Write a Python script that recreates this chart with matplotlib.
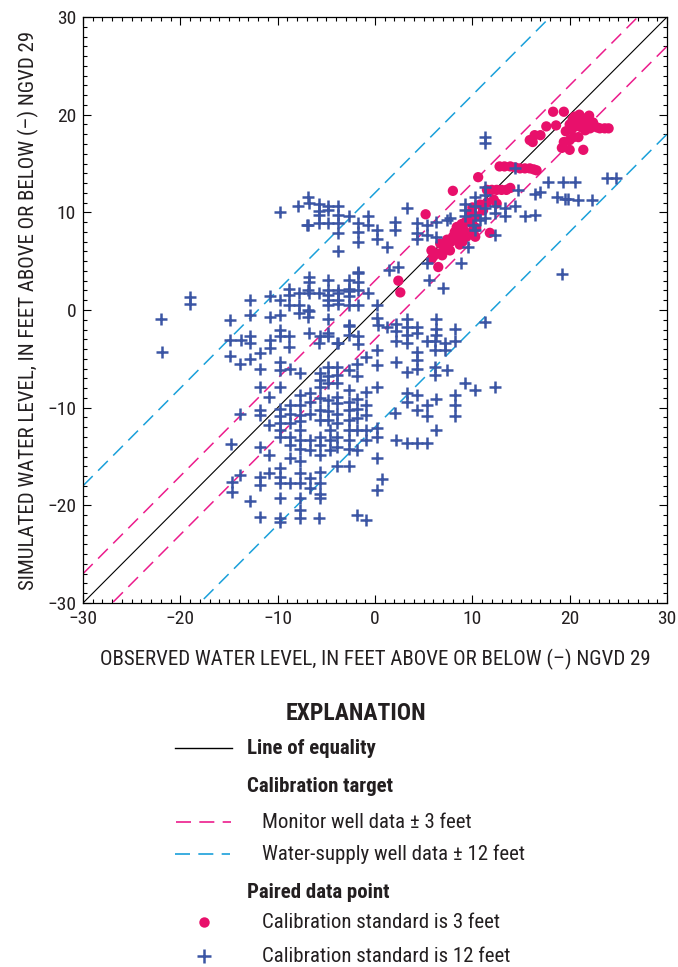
import matplotlib
matplotlib.use("Agg")
import matplotlib.pyplot as plt
import numpy as np
from matplotlib import font_manager
from matplotlib.lines import Line2D
from matplotlib.ticker import MultipleLocator

# pick the narrowest sans family that is installed
installed = {f.name for f in font_manager.fontManager.ttflist}
narrow = [n for n in ['Liberation Sans Narrow', 'Roboto Condensed', 'Open Sans Condensed',
                      'Roboto', 'Liberation Sans'] if n in installed]
plt.rcParams['font.family'] = narrow[:1] + ['DejaVu Sans']

# observed, simulated water level (ft, NGVD 29)
# water-supply wells, calibration standard 12 ft
supply_pts = [
    (-22.0, -0.9), (-21.9, -4.3), (-19.0, 1.3), (-19.0, 0.6),
    (-9.8, 10.0), (-7.9, 10.6), (-6.9, 11.6), (-6.8, 11.0), (-7.0, 8.7), (-5.8, 10.9),
    (-5.8, 10.1), (-5.8, 9.7), (-4.8, 10.6), (-3.8, 10.6), (-3.8, 9.7), (-4.8, 8.9),
    (-3.8, 8.9), (-5.8, 8.9), (-6.9, 8.7), (-2.7, 9.6), (-1.7, 8.9), (-1.7, 8.0),
    (-0.7, 9.6), (-0.7, 8.7), (0.2, 8.2), (0.2, 7.3), (1.2, 6.5), (-1.7, 7.0),
    (-3.8, 7.9), (-3.8, 6.0), (2.1, 9.0), (2.1, 8.2), (-4.8, 10.2),
    (3.3, 10.4), (4.3, 8.9), (4.3, 7.9), (4.3, 7.3), (5.3, 8.7), (5.3, 7.7),
    (6.3, 9.0), (6.3, 7.5), (7.4, 9.2),
    (2.4, 4.4), (1.4, 4.1), (-1.7, 3.8), (5.5, 3.1), (7.0, 2.3), (5.3, 4.8),
    (-6.8, 3.4), (-6.8, 2.9), (-4.8, 3.1), (-2.7, 3.1), (-1.7, 3.9), (-1.7, 2.9),
    (-8.8, 2.2), (-8.8, 1.5), (-7.8, 1.7), (-6.8, 1.7), (-5.8, 1.7), (-4.8, 1.5),
    (-3.8, 1.7), (-2.7, 1.9), (-1.7, 2.0), (-0.7, 1.7), (-10.8, 1.4), (-12.8, 1.0),
    (-9.8, 1.0), (-3.8, 0.6), (-2.7, 0.5), (-1.7, 0.5), (-4.8, 0.5), (-7.8, 0.5),
    (-8.8, 0.5), (-9.8, -0.5), (-10.8, -0.7), (-12.8, -0.5), (-14.9, -1.0),
    (-7.8, -0.3), (-6.8, -0.1), (-4.8, -0.9), (0.2, 0.5), (0.2, -0.8), (1.2, -1.7),
    (-9.8, -2.0), (-9.8, -2.7), (-8.8, -2.7), (-8.8, -3.8), (-12.8, -2.7),
    (-14.9, -3.1), (-14.9, -4.7), (-13.8, -3.1), (-11.8, -4.4), (-10.8, -3.1),
    (-10.8, -3.9), (-6.8, -2.4), (-5.8, -3.4), (-4.8, -2.7), (-2.7, -1.6),
    (-2.7, -2.6), (-1.7, -2.7), (-1.7, -3.5), (-3.8, -3.4),
    (-6.9, 2.0), (-6.9, 0.0), (-6.9, -0.7), (-4.8, 2.0), (-4.8, 1.0), (-3.8, 2.0),
    (-3.8, 1.0), (-2.7, 2.2), (-2.7, 1.4), (-2.7, -1.5), (-4.8, -2.4), (0.3, -1.5),
    (2.2, -1.4), (2.2, -2.2), (3.3, -0.9), (3.3, -1.7), (4.3, -1.7), (6.3, -0.9),
    (6.3, -1.9), (6.3, -2.6), (8.2, -1.9),
    (3.3, -2.6), (3.3, -3.4), (4.3, -2.4), (5.3, -3.2), (6.2, -3.2), (7.2, -3.4),
    (7.2, -4.1), (8.2, -3.2), (11.3, -1.2), (2.2, -3.2), (2.2, -5.3), (3.3, -6.3),
    (4.3, -4.3), (4.3, -5.1), (4.3, -6.0), (6.2, -4.1), (6.2, -5.8), (6.2, -6.7),
    (7.4, -6.1), (9.2, -7.5), (10.3, -8.2), (12.3, -7.9), (0.2, -7.9), (-0.9, -8.4),
    (3.3, -8.5), (3.3, -9.4), (4.3, -8.7), (4.3, -10.2), (5.3, -9.7), (5.3, -10.9),
    (6.3, -9.1), (2.1, -10.5), (8.2, -8.7), (8.2, -9.7), (8.2, -10.9), (6.3, -12.3),
    (2.2, -13.3), (3.3, -13.6), (4.3, -13.6), (5.3, -13.6), (-1.9, -14.3), (0.2, -15.2),
    (-3.9, -3.4), (-0.9, -4.8), (0.2, -4.1), (0.2, -5.6), (-1.9, -6.8), (-0.9, -9.7),
    (-0.9, -10.7), (-1.9, -10.1), (0.2, -12.1), (0.2, -13.0), (-0.9, -13.3),
    (-3.9, -16.0), (-2.7, -16.0), (0.7, -17.3), (0.2, -18.4), (-1.9, -21.0),
    (-0.9, -21.5), (-3.9, -5.8), (-3.9, -6.7), (-3.9, -7.5), (-2.7, -6.1), (-1.9, -5.5),
    (-2.7, -8.2), (-2.7, -9.4), (-2.7, -10.2), (-2.7, -11.3), (-2.7, -12.3),
    (-2.7, -13.3), (-2.7, -14.2), (-3.9, -8.9), (-3.9, -9.5), (-3.9, -10.6),
    (-3.9, -11.6), (-3.9, -13.0), (-3.9, -14.0), (-1.8, -9.1), (-1.8, -11.1),
    (-1.8, -12.3), (-0.9, -12.3),
    (-12.8, -3.4), (-13.9, -5.5), (-12.8, -5.0), (-11.8, -6.0), (-9.8, -5.3),
    (-9.8, -6.1), (-8.7, -6.0), (-7.7, -6.5), (-5.6, -2.7), (-5.6, -6.5), (-5.6, -7.2),
    (-5.6, -7.9), (-4.8, -5.8), (-4.8, -6.8), (-4.8, -7.5), (-11.8, -7.9), (-9.8, -7.9),
    (-10.9, -8.9), (-11.8, -10.2), (-11.8, -10.7), (-13.9, -10.6), (-9.8, -10.1),
    (-9.8, -10.9), (-9.8, -11.6), (-8.7, -9.7), (-8.7, -10.6), (-8.7, -11.6),
    (-7.7, -8.7), (-7.7, -9.7), (-7.7, -10.7), (-7.7, -11.4), (-6.7, -8.5),
    (-6.7, -9.4), (-6.7, -10.6), (-5.6, -9.0), (-5.6, -10.2), (-5.6, -11.3),
    (-4.8, -9.2), (-4.8, -10.3), (-4.8, -11.3), (-10.9, -11.8), (-9.8, -12.3),
    (-9.8, -13.0), (-8.7, -13.0), (-8.7, -13.8), (-7.7, -12.3), (-7.7, -13.3),
    (-7.7, -14.2), (-6.7, -13.3), (-6.7, -14.3), (-5.6, -13.0), (-5.6, -13.8),
    (-5.6, -14.8), (-4.6, -12.3), (-4.6, -13.3), (-4.6, -14.3), (-11.8, -14.0),
    (-10.9, -14.8), (-8.7, -15.2), (-7.7, -15.5), (-9.8, -16.2), (-9.8, -17.1),
    (-9.8, -17.7), (-10.9, -16.7), (-11.8, -17.1), (-11.8, -17.9), (-13.9, -16.9),
    (-8.7, -17.7), (-7.7, -16.7), (-7.7, -17.7), (-6.7, -17.2), (-6.7, -18.2),
    (-5.6, -16.6), (-5.6, -17.7), (-5.6, -18.8), (-5.6, -19.3), (-12.8, -19.6),
    (-9.8, -19.3), (-7.7, -19.3), (-11.8, -21.2), (-9.8, -21.3), (-9.8, -21.7),
    (-7.7, -20.5), (-7.7, -21.3), (-5.8, -21.3), (-14.8, -13.7), (-14.7, -17.6),
    (-14.7, -18.6),
    (11.3, 17.7), (11.3, 17.1), (14.4, 14.5), (17.8, 13.1), (19.3, 13.1), (20.5, 13.1),
    (23.8, 13.5), (24.8, 13.5), (14.7, 12.3), (16.4, 11.9), (17.0, 12.1), (18.7, 11.6),
    (19.5, 11.4), (19.8, 11.4), (20.9, 11.3), (22.3, 11.3), (11.3, 12.6), (11.3, 11.8),
    (10.3, 11.6), (9.2, 10.9), (9.2, 10.2), (9.2, 9.6), (10.3, 10.6), (10.3, 9.7),
    (10.3, 8.2), (11.3, 10.4), (11.3, 9.4), (12.3, 10.6), (12.3, 9.9), (13.4, 10.4),
    (13.4, 9.6), (14.4, 10.6), (15.4, 9.6), (16.4, 9.7), (12.3, 7.7), (9.6, 6.5),
    (8.8, 4.8), (7.7, 9.4), (19.2, 3.7), (10.8, 9.2), (10.1, 8.7),
]

# monitor wells, calibration standard 3 ft
monitor_pts = [
    (2.4, 3.0), (2.6, 1.8), (5.2, 9.8), (8.0, 12.2), (10.6, 13.6), (18.3, 20.3),
    (19.4, 20.3),
    (12.8, 14.7), (13.3, 14.7), (13.9, 14.7), (14.4, 14.6), (14.9, 14.5), (15.4, 14.5),
    (15.9, 14.5), (16.3, 14.4), (16.6, 14.3),
    (11.5, 12.3), (12.0, 12.3), (12.5, 12.3), (13.0, 12.3), (13.5, 12.3), (13.9, 12.5),
    (12.2, 11.3), (12.5, 10.9),
    (6.3, 5.8), (6.7, 6.8), (7.0, 6.0), (7.4, 7.2), (7.7, 6.1), (8.0, 7.5), (8.4, 8.5),
    (8.7, 7.2), (8.7, 6.7), (9.1, 8.2), (9.4, 7.5), (9.8, 7.9), (9.8, 9.9), (10.4, 8.4),
    (10.4, 9.6), (11.1, 10.2), (10.3, 7.5), (11.8, 7.9), (5.8, 6.1), (6.5, 4.4),
    (5.8, 5.2), (6.0, 5.5), (7.2, 6.5), (7.8, 7.0), (8.2, 8.0), (8.9, 8.8), (9.3, 9.0),
    (9.6, 9.3), (10.0, 10.5), (10.8, 10.8), (11.5, 11.0), (6.9, 5.6), (7.5, 6.6),
    (8.5, 7.8), (9.0, 7.0), (10.0, 8.8),
    (15.9, 17.4), (16.4, 17.9), (17.0, 17.9), (17.6, 18.8), (18.6, 18.9), (19.4, 17.2),
    (20.0, 17.4), (20.4, 17.7), (20.9, 17.7), (19.2, 16.6), (20.0, 16.4), (21.4, 16.4),
    (16.2, 17.2), (19.6, 18.3),
    (20.0, 19.0), (20.3, 19.5), (20.6, 18.8), (20.9, 19.3), (21.2, 18.7), (21.5, 19.6),
    (21.8, 19.0), (22.1, 18.6), (22.4, 19.2), (20.5, 19.8), (21.0, 20.0), (21.9, 19.7),
    (20.2, 18.5), (21.6, 18.4), (22.8, 18.7), (23.1, 18.6), (23.6, 18.6), (24.0, 18.6),
    (22.0, 19.9),
]

lims = [-30, 30]
monitor_tol = 3
supply_tol = 12

c_blue = '#3b55a4'
c_red = '#e8106b'
c_mag = '#ec1c8c'
c_cyan = '#1aa0da'
txt = '#231f20'

W, H = 678, 967
fig = plt.figure(figsize=(W / 100, H / 100), dpi=100)
ax = fig.add_axes([83 / W, 1 - 603 / H, 584 / W, 586 / H])

line_x = np.array(lims)
ax.plot(line_x, line_x, color='black', lw=0.8, zorder=2)
for off in (-monitor_tol, monitor_tol):
    ax.plot(line_x, line_x + off, color=c_mag, lw=1.1, ls=(0, (9, 5)), zorder=2)
for off in (-supply_tol, supply_tol):
    ax.plot(line_x, line_x + off, color=c_cyan, lw=1.1, ls=(0, (9, 5)), zorder=2)

mon = np.array(monitor_pts)
sup = np.array(supply_pts)
ax.scatter(mon[:, 0], mon[:, 1], s=55, color=c_red, edgecolors='none', zorder=3)
ax.scatter(sup[:, 0], sup[:, 1], s=80, marker='+', color=c_blue, linewidths=1.8, zorder=4)

ax.set_xlim(lims)
ax.set_ylim(lims)
ax.xaxis.set_major_locator(MultipleLocator(10))
ax.yaxis.set_major_locator(MultipleLocator(10))
ax.xaxis.set_minor_locator(MultipleLocator(1))
ax.yaxis.set_minor_locator(MultipleLocator(1))
ax.tick_params(which='both', direction='in', top=True, right=True, width=0.8)
ax.tick_params(which='major', length=6, labelsize=14, pad=5, labelcolor=txt)
ax.tick_params(which='minor', length=3)
for sp in ax.spines.values():
    sp.set_linewidth(0.9)

ax.set_xlabel('OBSERVED WATER LEVEL, IN FEET ABOVE OR BELOW (\u2013) NGVD 29',
              fontsize=15, labelpad=15, color=txt)
ax.set_ylabel('SIMULATED WATER LEVEL, IN FEET ABOVE OR BELOW (\u2013) NGVD 29',
              fontsize=15, labelpad=6, color=txt)


def fx(px):
    return px / W


def fy(py):
    return 1 - py / H


fig.text(fx(356), fy(714), 'EXPLANATION', fontsize=17, fontweight='bold',
         ha='center', va='center', color=txt)
fig.add_artist(Line2D([fx(175), fx(232)], [fy(748), fy(748)], color='black', lw=1.0))
fig.text(fx(247), fy(748), 'Line of equality', fontsize=15, fontweight='bold',
         va='center', color=txt)
fig.text(fx(247), fy(787), 'Calibration target', fontsize=15, fontweight='bold',
         va='center', color=txt)
fig.add_artist(Line2D([fx(176), fx(231)], [fy(822), fy(822)], color=c_mag, lw=1.2,
                      ls=(0, (9, 5))))
fig.text(fx(262), fy(822), 'Monitor well data \u00b1 3 feet', fontsize=15,
         va='center', color=txt)
fig.add_artist(Line2D([fx(175), fx(230)], [fy(854), fy(854)], color=c_cyan, lw=1.2,
                      ls=(0, (9, 5))))
fig.text(fx(262), fy(854), 'Water-supply well data \u00b1 12 feet', fontsize=15,
         va='center', color=txt)
fig.text(fx(247), fy(892), 'Paired data point', fontsize=15, fontweight='bold',
         va='center', color=txt)
fig.add_artist(Line2D([fx(204)], [fy(922)], marker='o', markersize=7.5, color=c_red,
                      markeredgewidth=0, ls='none'))
fig.text(fx(262), fy(922), 'Calibration standard is 3 feet', fontsize=15,
         va='center', color=txt)
fig.add_artist(Line2D([fx(204)], [fy(956)], marker='+', markersize=9.5, color=c_blue,
                      markeredgewidth=1.8, ls='none'))
fig.text(fx(262), fy(956), 'Calibration standard is 12 feet', fontsize=15,
         va='center', color=txt)

fig.savefig('out.png', dpi=100)
